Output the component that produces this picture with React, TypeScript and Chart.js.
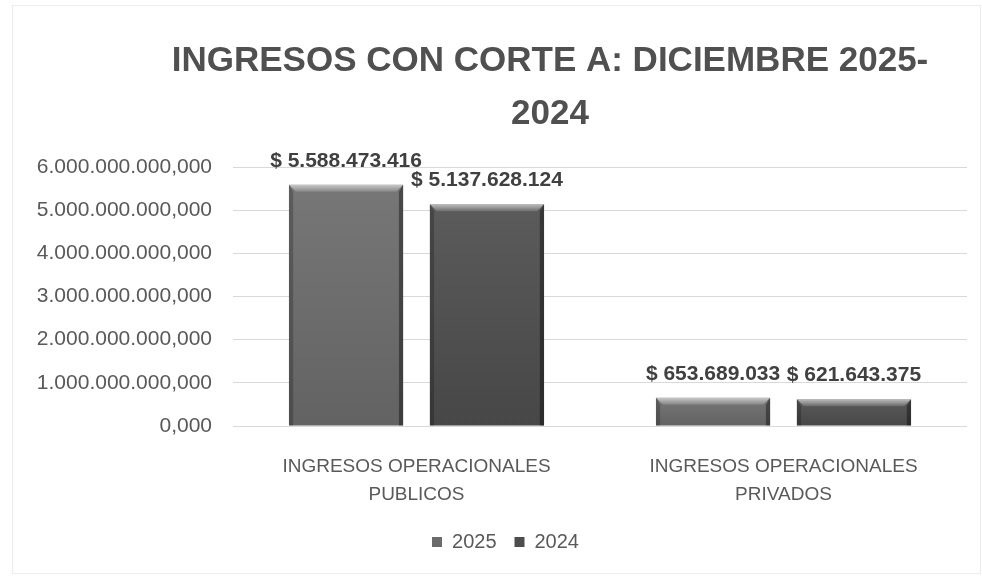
import React, { useEffect, useRef } from "react";
import { Chart, registerables } from "chart.js";

Chart.register(...registerables);

// ---- data ----
const categories: string[][] = [
  ["INGRESOS OPERACIONALES", "PUBLICOS"],
  ["INGRESOS OPERACIONALES", "PRIVADOS"],
];
const seriesNames: string[] = ["2025", "2024"];
const values2025: number[] = [5588473416, 653689033];
const values2024: number[] = [5137628124, 621643375];
const yMax = 6000000000;
const yStep = 1000000000;
const titleLines: string[] = ["INGRESOS CON CORTE A: DICIEMBRE 2025-", "2024"];

// ---- helpers ----
function groupThousands(n: number): string {
  return Math.round(n)
    .toString()
    .replace(/\B(?=(\d{3})+(?!\d))/g, ".");
}
function tickFmt(v: number): string {
  return groupThousands(v) + ",000";
}
function labelFmt(v: number): string {
  return "$ " + groupThousands(v);
}

function fontAvailable(name: string): boolean {
  const c = document.createElement("canvas").getContext("2d");
  if (!c) return false;
  const sample = "INGRESOS CON CORTE";
  c.font = "bold 40px monospace";
  const a = c.measureText(sample).width;
  c.font = `bold 40px "${name}", monospace`;
  const b = c.measureText(sample).width;
  return Math.abs(a - b) > 1;
}

const SANS = "'Liberation Sans', Arial, sans-serif";
const TEXT = "#595959";

const framePlugin = {
  id: "frame",
  beforeDraw(chart: any) {
    const { ctx, width, height } = chart;
    ctx.save();
    ctx.fillStyle = "#ffffff";
    ctx.fillRect(0, 0, width, height);
    ctx.strokeStyle = "#ececec";
    ctx.lineWidth = 1;
    ctx.strokeRect(12.5, 5.5, width - 14, height - 8);
    ctx.restore();
  },
};

const shiftPlugin = {
  id: "shiftBoxes",
  afterLayout(chart: any) {
    const tb = chart.titleBlock;
    if (tb) {
      const dx = 550 - (tb.left + tb.right) / 2;
      tb.left += dx;
      tb.right += dx;
    }
    const lg = chart.legend;
    if (lg) {
      lg.left += 16;
      lg.right += 16;
    }
  },
};

const bevelPlugin = {
  id: "bevel",
  afterDatasetsDraw(chart: any) {
    const ctx = chart.ctx;
    chart.data.datasets.forEach((_ds: any, di: number) => {
      const meta = chart.getDatasetMeta(di);
      meta.data.forEach((bar: any) => {
        const { x, y, base, width } = bar.getProps(["x", "y", "base", "width"], true);
        const l = x - width / 2;
        const r = x + width / 2;
        const t = Math.min(y, base);
        const b = Math.max(y, base);
        const bv = Math.min(7, (b - t) / 3);
        ctx.save();
        // body vertical shading
        const gBody = ctx.createLinearGradient(0, t, 0, b);
        gBody.addColorStop(0, "rgba(255,255,255,0.08)");
        gBody.addColorStop(1, "rgba(0,0,0,0.08)");
        ctx.fillStyle = gBody;
        ctx.fillRect(l, t, r - l, b - t);
        // top bevel
        const g = ctx.createLinearGradient(0, t, 0, t + bv);
        g.addColorStop(0, "rgba(255,255,255,0.6)");
        g.addColorStop(1, "rgba(255,255,255,0.12)");
        ctx.fillStyle = g;
        ctx.beginPath();
        ctx.moveTo(l, t);
        ctx.lineTo(r, t);
        ctx.lineTo(r - bv, t + bv);
        ctx.lineTo(l + bv, t + bv);
        ctx.closePath();
        ctx.fill();
        // left bevel
        ctx.fillStyle = "rgba(0,0,0,0.22)";
        ctx.beginPath();
        ctx.moveTo(l, t);
        ctx.lineTo(l + bv * 0.6, t + bv);
        ctx.lineTo(l + bv * 0.6, b);
        ctx.lineTo(l, b);
        ctx.closePath();
        ctx.fill();
        // right bevel
        ctx.fillStyle = "rgba(0,0,0,0.38)";
        ctx.beginPath();
        ctx.moveTo(r, t);
        ctx.lineTo(r, b);
        ctx.lineTo(r - bv * 0.6, b);
        ctx.lineTo(r - bv * 0.6, t + bv);
        ctx.closePath();
        ctx.fill();
        ctx.restore();
      });
    });
  },
};

const valueLabelPlugin = {
  id: "valueLabels",
  afterDatasetsDraw(chart: any) {
    const ctx = chart.ctx;
    ctx.save();
    ctx.font = `bold 21px ${SANS}`;
    ctx.fillStyle = "#404040";
    ctx.textAlign = "center";
    ctx.textBaseline = "middle";
    chart.data.datasets.forEach((ds: any, di: number) => {
      const meta = chart.getDatasetMeta(di);
      meta.data.forEach((bar: any, i: number) => {
        const { x, y } = bar.getProps(["x", "y"], true);
        ctx.fillText(labelFmt(ds.data[i]), x, y - 24);
      });
    });
    ctx.restore();
  },
};

export default function App() {
  const ref = useRef<HTMLCanvasElement | null>(null);

  useEffect(() => {
    document.body.style.margin = "0";
    const canvas = ref.current;
    if (!canvas) return;

    // pick a condensed face for the title if available, sized to the reference width
    const narrow = fontAvailable("Liberation Sans Narrow");
    const titleFamily = narrow ? "'Liberation Sans Narrow', 'Liberation Sans', sans-serif" : SANS;
    const mctx = document.createElement("canvas").getContext("2d")!;
    mctx.font = `bold 100px ${titleFamily}`;
    const w100 = mctx.measureText(titleLines[0]).width;
    const titleSize = Math.min(44, Math.round((100 * 756) / w100));

    const chart = new Chart(canvas, {
      type: "bar",
      data: {
        labels: categories as any,
        datasets: [
          {
            label: seriesNames[0],
            data: values2025,
            backgroundColor: "#6b6b6b",
            borderWidth: 0,
            categoryPercentage: 0.768,
            barPercentage: 0.81,
          },
          {
            label: seriesNames[1],
            data: values2024,
            backgroundColor: "#4d4d4d",
            borderWidth: 0,
            categoryPercentage: 0.768,
            barPercentage: 0.81,
          },
        ],
      },
      options: {
        responsive: false,
        animation: false,
        devicePixelRatio: 1,
        layout: { padding: { left: 12, right: 15, top: 0, bottom: 14 } },
        plugins: {
          title: {
            display: true,
            text: titleLines,
            color: "#505050",
            font: { family: titleFamily, size: titleSize, weight: "bold", lineHeight: 53 / titleSize },
            padding: { top: 35, bottom: 26 },
          },
          legend: {
            display: true,
            position: "bottom",
            labels: {
              boxWidth: 10,
              boxHeight: 10,
              padding: 18,
              color: TEXT,
              font: { family: SANS, size: 20 },
            },
          },
          tooltip: { enabled: false },
        },
        scales: {
          x: {
            grid: { display: false },
            border: { display: false },
            ticks: {
              color: TEXT,
              font: { family: SANS, size: 19, lineHeight: 28 / 19 },
              padding: 19,
              maxRotation: 0,
              autoSkip: false,
            },
            afterFit: (s: any) => {
              s.height = 88;
            },
          },
          y: {
            min: 0,
            max: yMax,
            grid: { color: "#d9d9d9", lineWidth: 1, drawTicks: false },
            border: { display: false },
            ticks: {
              stepSize: yStep,
              color: TEXT,
              font: { family: SANS, size: 21 },
              padding: 21,
              callback: (v: any) => tickFmt(Number(v)),
            },
            afterFit: (s: any) => {
              s.width = 221;
            },
          },
        },
      },
      plugins: [framePlugin, shiftPlugin, bevelPlugin, valueLabelPlugin],
    });

    return () => chart.destroy();
  }, []);

  return <canvas ref={ref} width={982} height={576} style={{ display: "block" }} />;
}
